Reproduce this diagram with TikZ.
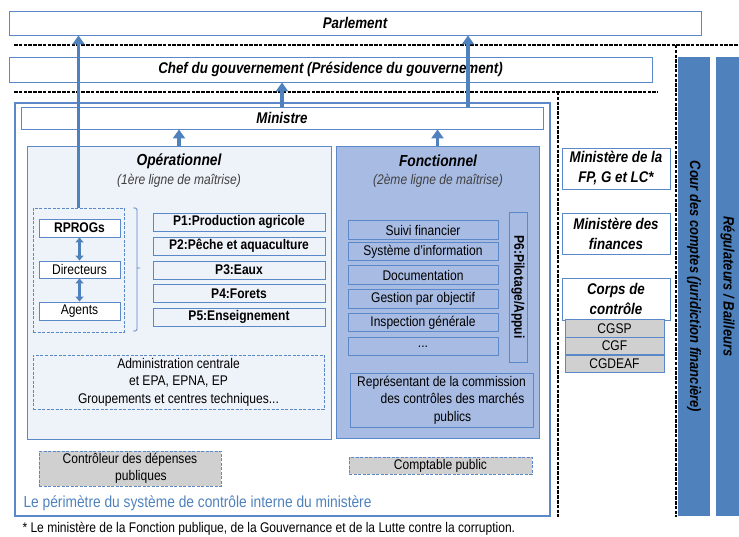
\documentclass[tikz,border=0pt]{standalone}
\usepackage{fontspec}
\setmainfont{Liberation Sans}[FakeStretch=0.86]
\usetikzlibrary{arrows.meta, positioning}
\definecolor{LineBlue}{HTML}{5A88C8}
\definecolor{BarBlue}{HTML}{4F81BD}
\definecolor{OpFill}{HTML}{EEF2F9}
\definecolor{FoncFill}{HTML}{A8BBE3}
\definecolor{BoxGray}{HTML}{D0D0D0}

\begin{document}
\begin{tikzpicture}[
    x=1pt, y=-1pt, font=\fontsize{14}{17.5}\selectfont,
    box/.style={draw=LineBlue, line width=0.9pt, inner sep=1pt, align=center},
    head/.style={box, fill=white, font=\fontsize{15.5}{20}\selectfont\bfseries\itshape},
    prog/.style={box, minimum width=172, minimum height=18,
                 font=\fontsize{14}{17}\selectfont\bfseries},
    fitem/.style={box, minimum width=150, minimum height=18.5},
    level/.style={box, fill=white, minimum width=81, minimum height=18},
    grey/.style={box, fill=BoxGray, dash pattern=on 3pt off 1.5pt},
    corps/.style={box, fill=BoxGray, minimum width=99, minimum height=17.5},
    side/.style={head, minimum width=108, minimum height=41},
    bar/.style={fill=BarBlue, rotate=-90, inner sep=0pt, minimum width=459,
                font=\fontsize{15}{17}\selectfont\bfseries\itshape},
    sep/.style={line width=2.8pt, dash pattern=on 3.5pt off 1.3pt},
    flow/.style={-{Triangle[width=12pt,length=9pt]}, BarBlue, line width=3.8pt},
    pair/.style={{Triangle[width=8pt,length=5pt]}-{Triangle[width=8pt,length=5pt]},
                 BarBlue, line width=2.5pt},
  ]
    \useasboundingbox (0,0) rectangle (739,537);
    % ---- niveaux du haut ----
    \node[head, minimum width=692, minimum height=24] (parl) at (355,23) {Parlement};
    \node[head, minimum width=643, minimum height=25] (chef) at (330.5,69.5)
        {Chef du gouvernement (Présidence du gouvernement)};
    \draw[sep] (14,45) -- (739,45) (676,45) -- (676,517);
    \draw[sep] (14,92) -- (658,92) (558,92) -- (558,517);
    % ---- périmètre du ministère ----
    \node[draw=LineBlue, line width=1.2pt, minimum width=535, minimum height=413]
        (perim) at (282.5,309.5) {};
    \node[head, minimum width=522, minimum height=22] (min) at (282,118) {Ministre};
    \node[box, fill=OpFill, minimum width=304, minimum height=293] (op) at (179,292.5) {};
    \node[box, fill=FoncFill, minimum width=203, minimum height=292] (fonc) at (437.5,292) {};
    \node[font=\fontsize{16}{18}\selectfont\bfseries\itshape] (optit) at (179,161) {Opérationnel};
    \node[font=\fontsize{14}{17}\selectfont\itshape, text=black!75] (opsub) at (179,181)
        {(1ère ligne de maîtrise)};
    \node[font=\fontsize{16}{18}\selectfont\bfseries\itshape] (fotit) at (438,161) {Fonctionnel};
    \node[font=\fontsize{14}{17}\selectfont\itshape, text=black!75] (fosub) at (438,181)
        {(2ème ligne de maîtrise)};
    % ---- ligne opérationnelle ----
    \node[box, dash pattern=on 3pt off 1.5pt, minimum width=91, minimum height=124]
        (grp) at (78.5,270) {};
    \node[level, font=\fontsize{14}{17}\selectfont\bfseries] (rprog) at (79.5,228) {RPROGs};
    \node[level, minimum height=17] (dir) at (79.5,269.5) {Directeurs};
    \node[level] (agent) at (79.5,311) {Agents};
    \draw[LineBlue, line width=0.9pt, rounded corners=1.5pt]
        (133,208) -- (137,208) -- (137,331) -- (133,331) (137,268) -- (140,268);
    \node[prog] (p1) at (239,222)   {P1:Production agricole};
    \node[prog] (p2) at (239,246)   {P2:Pêche et aquaculture};
    \node[prog] (p3) at (239,270)   {P3:Eaux};
    \node[prog] (p4) at (239,293.5) {P4:Forets};
    \node[prog] (p5) at (239,317)   {P5:Enseignement};
    \node[box, dash pattern=on 3pt off 1.5pt, minimum width=291, minimum height=54]
        (admin) at (178.5,382)
        {Administration centrale\\et EPA, EPNA, EP\\Groupements et centres techniques...};
    % ---- ligne fonctionnelle ----
    \node[fitem] (suivi) at (423,230)   {Suivi financier};
    \node[fitem] (sinfo) at (423,251.5) {Système d’information};
    \node[fitem] (docu)  at (423,275)   {Documentation};
    \node[fitem] (gpo)   at (423,299)   {Gestion par objectif};
    \node[fitem] (insp)  at (423,322.5) {Inspection générale};
    \node[fitem] (etc)   at (423,346.5) {...};
    \node[box, rotate=-90, minimum width=150, minimum height=18,
          font=\fontsize{14}{17}\selectfont\bfseries] (p6) at (518,287) {P6:Pilotage/Appui};
    \node[box, minimum width=183, minimum height=54] (repr) at (441.5,400)
        {Représentant de la commission\\\hspace*{22pt}des contrôles des marchés\\\hspace*{22pt}publics};
    \node[grey, minimum width=182, minimum height=35] (cdp) at (130,468.5)
        {Contrôleur des dépenses\\\hspace*{22pt}publiques};
    \node[grey, minimum width=183, minimum height=17] (cpub) at (440.5,465.5) {Comptable public};
    \node[anchor=west, text=BarBlue, font=\fontsize{16}{18}\selectfont] (ptxt) at (20,503)
        {Le périmètre du système de contrôle interne du ministère};
    % ---- contrôle externe ----
    \node[side] (mfp)  at (616,168.5) {Ministère de la\\FP, G et LC*};
    \node[side] (mfin) at (616,233.5) {Ministère des\\finances};
    \node[side, minimum height=42] (corps) at (616,299) {Corps de\\contrôle};
    \node[corps] (cgsp)   at (614.5,328.5) {CGSP};
    \node[corps] (cgf)    at (614.5,346)   {CGF};
    \node[corps] (cgdeaf) at (614.5,364)   {CGDEAF};
    \node[bar, minimum height=32] (cour) at (694,286.5) {Cour des comptes (juridiction financière)};
    \node[bar, minimum height=23] (reg)  at (727.5,286.5) {Régulateurs / Bailleurs};
    % ---- flèches ----
    \draw[flow] (grp.north) -- (grp.north |- parl.south);
    \draw[flow] (min.north -| 468,0) -- (parl.south -| 468,0);
    \draw[flow] (min.north) -- (min.north |- chef.south);
    \draw[flow] (op.north) -- (op.north |- min.south);
    \draw[flow] (fonc.north) -- (fonc.north |- min.south);
    \draw[pair] (rprog) -- (dir);
    \draw[pair] (dir) -- (agent);
    % ---- note ----
    \node[anchor=west, font=\fontsize{14}{16}\selectfont] (note) at (19,529)
        {* Le ministère de la Fonction publique, de la Gouvernance et de la Lutte contre la corruption.};
  \end{tikzpicture}
\end{document}
